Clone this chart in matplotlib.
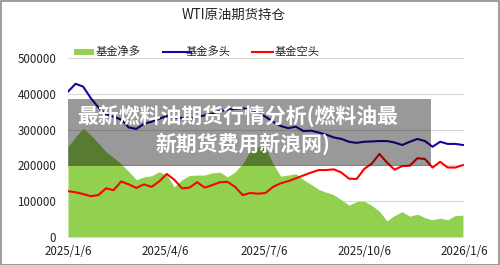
import matplotlib
matplotlib.use("Agg")
import matplotlib.pyplot as plt
import matplotlib.dates as mdates
import numpy as np
import pandas as pd
from matplotlib.patches import Rectangle
from matplotlib.lines import Line2D

plt.rcParams['font.family'] = ['Noto Sans CJK SC', 'DejaVu Sans']

title = "WTI原油期货持仓"
series_names = ["基金净多", "基金多头", "基金空头"]
tick_labels = ["2025/1/6", "2025/4/6", "2025/7/6", "2025/10/6", "2026/1/6"]
tick_dates = ["2025-01-06", "2025-04-06", "2025-07-06", "2025-10-06", "2026-01-06"]
banner_lines = ["最新燃料油期货行情分析(燃料油最", "新期货费用新浪网)"]

dates = pd.date_range("2025-01-06", periods=53, freq="7D")

net_long = [252, 280, 304, 285, 262, 238, 222, 204, 183, 160, 168, 171, 182, 173, 140,
            160, 172, 173, 173, 179, 181, 168, 182, 205, 240, 252, 250, 205, 170, 173,
            177, 160, 147, 133, 125, 118, 104, 89, 99, 100, 88, 72, 45, 60, 71, 58,
            64, 54, 48, 53, 48, 60, 61]
long_pos = [406, 428, 420, 388, 362, 343, 336, 328, 306, 302, 316, 322, 330, 338, 333,
            333, 330, 335, 340, 345, 352, 355, 358, 360, 355, 348, 336, 322, 310, 304,
            308, 296, 297, 292, 286, 278, 274, 266, 263, 266, 267, 268, 268, 264, 257,
            266, 274, 268, 252, 266, 260, 260, 257]
short_pos = [128, 125, 120, 114, 117, 136, 131, 155, 147, 137, 147, 140, 155, 176, 160,
             136, 138, 153, 138, 145, 153, 154, 140, 117, 123, 121, 123, 140, 150, 156,
             164, 172, 180, 187, 187, 189, 180, 163, 162, 190, 205, 232, 208, 188, 198,
             199, 220, 218, 194, 210, 194, 194, 201]

net_long = np.array(net_long) * 1000
long_pos = np.array(long_pos) * 1000
short_pos = np.array(short_pos) * 1000

W, H = 500, 265
fig = plt.figure(figsize=(5, 2.65), dpi=100)
ax = fig.add_axes([68 / W, 1 - 237 / H, (464 - 68) / W, (237 - 58) / H])

green = "#92D050"
blue = "#2200A8"
red = "#FF0000"

ax.fill_between(dates, 0, net_long, color=green, lw=0, zorder=2)
ax.plot(dates, long_pos, color=blue, lw=1.5, zorder=3)
ax.plot(dates, short_pos, color=red, lw=1.5, zorder=3)

ax.set_ylim(0, 500000)
ax.set_yticks(np.arange(0, 500001, 100000))
ax.set_xlim(dates[0], dates[-1])
ax.set_xticks(pd.to_datetime(tick_dates))
ax.set_xticklabels(tick_labels)
ax.grid(axis='y', color='#d9d9d9', lw=0.8, zorder=0)
ax.set_axisbelow(True)
for s in ax.spines.values():
    s.set_visible(False)
ax.tick_params(axis='both', length=0, labelsize=8.3, colors='#222222')
ax.tick_params(axis='y', pad=8.5)
ax.tick_params(axis='x', pad=6)

# title
fig.text(234 / W, 1 - 15 / H, title, ha='center', va='center', fontsize=9.6, color='#222222')

# legend (manual)
ly = 1 - 51.5 / H
fig.patches.append(Rectangle((74 / W, 1 - 54.5 / H), 20 / W, 6 / H, transform=fig.transFigure,
                             color=green, lw=0))
fig.text(96 / W, ly, series_names[0], ha='left', va='center', fontsize=8.1, color='#222222')
fig.lines.append(Line2D([163 / W, 191 / W], [ly, ly], transform=fig.transFigure, color=blue, lw=1.5))
fig.text(186 / W, ly, series_names[1], ha='left', va='center', fontsize=8.1, color='#222222')
fig.lines.append(Line2D([252 / W, 273 / W], [ly, ly], transform=fig.transFigure, color=red, lw=1.5))
fig.text(275 / W, ly, series_names[2], ha='left', va='center', fontsize=8.1, color='#222222')

# banner overlay
fig.patches.append(Rectangle((68 / W, 1 - 166 / H), (431 - 68) / W, (166 - 99) / H,
                             transform=fig.transFigure, color='black', alpha=0.4, lw=0, zorder=10))
fig.text(238 / W, 1 - 115.5 / H, banner_lines[0], ha='center', va='center', fontsize=15,
         color='white', fontweight='bold', zorder=11)
fig.text(243 / W, 1 - 144 / H, banner_lines[1], ha='center', va='center', fontsize=15,
         color='white', fontweight='bold', zorder=11)

# outer frame
fig.patches.append(Rectangle((0.5 / W, 0.5 / H), (W - 1.5) / W, (H - 1.5) / H, transform=fig.transFigure,
                             fill=False, edgecolor='#8c8c8c', lw=1.2))

fig.savefig("out.png", dpi=100)
